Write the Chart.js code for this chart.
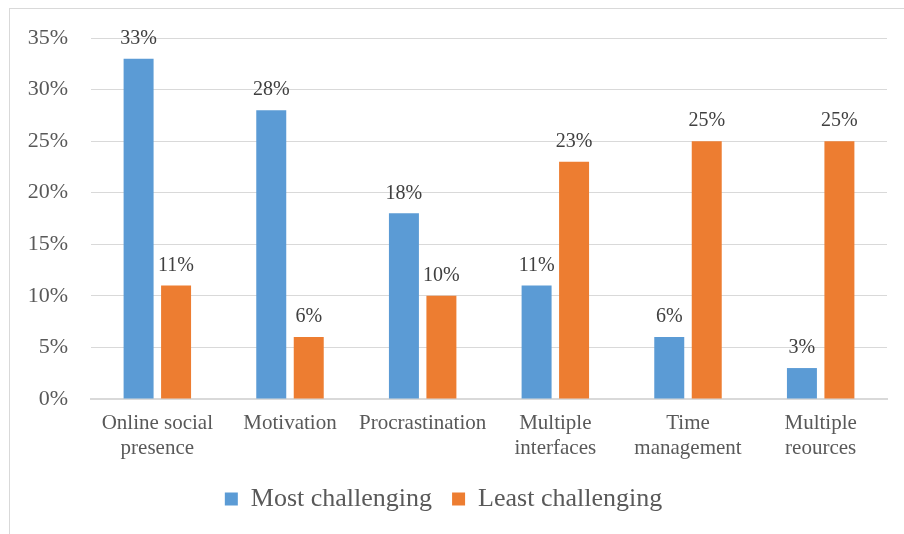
<!DOCTYPE html>
<html>
<head>
<meta charset="utf-8">
<script src="https://cdn.jsdelivr.net/npm/chart.js@4/dist/chart.umd.min.js"></script>
<style>
    html, body { margin: 0; padding: 0; background: #fff; }
    #wrap { width: 904px; height: 534px; position: relative; }
</style>
</head>
<body>
<div id="wrap"><canvas id="challengeChart" width="904" height="534"></canvas></div>
<script>
// Challenges of online learning: most vs least challenging (percent of respondents)
const categories = [
    ['Online social', 'presence'],
    'Motivation',
    'Procrastination',
    ['Multiple', 'interfaces'],
    ['Time', 'management'],
    ['Multiple', 'reources']
];
const mostChallenging = [33, 28, 18, 11, 6, 3];
const leastChallenging = [11, 6, 10, 23, 25, 25];
const yTicks = [0, 5, 10, 15, 20, 25, 30, 35];

const textColor = '#595959';
const serif = "'Liberation Serif', 'Times New Roman', serif";

// value labels above each bar + light frame around the chart
const valueLabels = {
    id: 'valueLabels',
    afterDatasetsDraw(chart) {
        const ctx = chart.ctx;
        ctx.save();
        ctx.font = '20px ' + serif;
        ctx.fillStyle = '#404040';
        ctx.textAlign = 'center';
        ctx.textBaseline = 'bottom';
        chart.data.datasets.forEach((ds, i) => {
            chart.getDatasetMeta(i).data.forEach((bar, j) => {
                ctx.fillText(ds.data[j] + '%', bar.x, bar.y - 10);
            });
        });
        ctx.restore();
    },
    afterDraw(chart) {
        const ctx = chart.ctx;
        ctx.save();
        ctx.strokeStyle = '#d9d9d9';
        ctx.lineWidth = 1;
        ctx.strokeRect(9.5, 8.5, 1000, 1000);
        ctx.restore();
    }
};

new Chart(document.getElementById('challengeChart'), {
    type: 'bar',
    data: {
        labels: categories,
        datasets: [{
            label: 'Most challenging',
            data: mostChallenging,
            backgroundColor: '#5b9bd5',
            categoryPercentage: 0.565,
            barPercentage: 0.8
        }, {
            label: 'Least challenging',
            data: leastChallenging,
            backgroundColor: '#ed7d31',
            categoryPercentage: 0.565,
            barPercentage: 0.8
        }]
    },
    options: {
        responsive: false,
        animation: false,
        devicePixelRatio: 1,
        layout: {
            padding: { top: 38, right: 17, bottom: 12, left: 0 }
        },
        plugins: {
            legend: {
                position: 'bottom',
                labels: {
                    color: textColor,
                    font: { family: serif, size: 26 },
                    boxWidth: 13,
                    boxHeight: 13,
                    padding: 20
                }
            },
            tooltip: { enabled: false }
        },
        scales: {
            x: {
                grid: { display: false, drawTicks: false },
                border: { display: true, color: '#d9d9d9', width: 2 },
                afterFit(scale) {
                    scale.height = 67;
                },
                ticks: {
                    color: textColor,
                    font: { family: serif, size: 21, lineHeight: 1.2 },
                    padding: 12,
                    maxRotation: 0,
                    autoSkip: false
                }
            },
            y: {
                min: 0,
                max: 35,
                afterBuildTicks(scale) {
                    scale.ticks = yTicks.map(v => ({ value: v }));
                },
                afterFit(scale) {
                    scale.width = 91;
                },
                grid: { color: '#d9d9d9', drawTicks: false },
                border: { display: false },
                ticks: {
                    color: textColor,
                    font: { family: serif, size: 22 },
                    padding: 23,
                    callback: v => v + '%'
                }
            }
        }
    },
    plugins: [valueLabels]
});
</script>
</body>
</html>
